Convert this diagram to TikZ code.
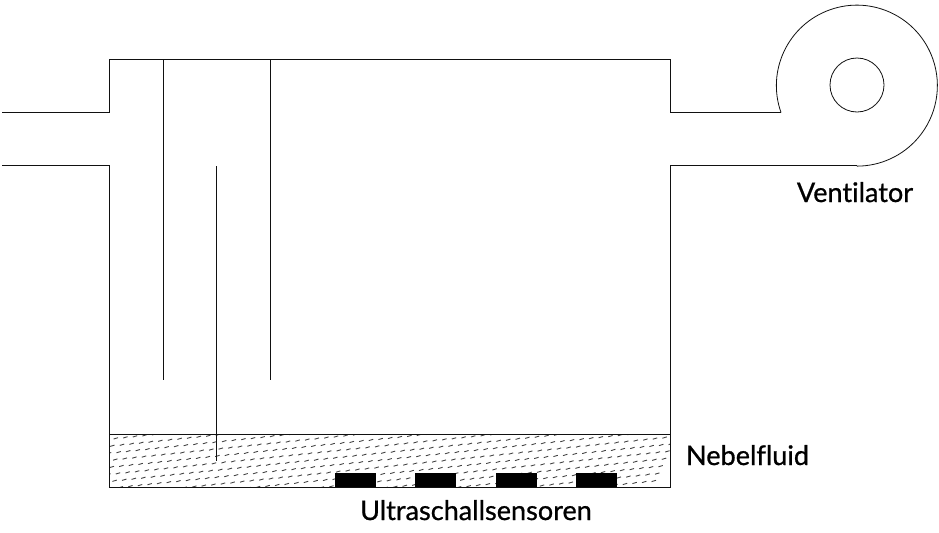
\documentclass[tikz,border=0pt]{standalone}
\usepackage{fontspec}
\setmainfont{Lato}[Ligatures=NoCommon,FakeBold=0.8]
\definecolor{inkc}{HTML}{111111}
\tikzset{
  wall/.style={draw=inkc,line width=0.75pt},
  fine/.style={draw=inkc,line width=0.6pt},
  sensor/.style={fill=black,draw=none,minimum width=30.75pt,minimum height=10.5pt,inner sep=0pt,outer sep=0pt},
  lbl/.style={font=\fontsize{20.3pt}{24pt}\selectfont,text=black,inner sep=0pt,anchor=base},
  hatchd/.style={draw=black!75,line width=0.65pt}
}
\begin{document}
\begin{tikzpicture}[x=0.75pt,y=-0.75pt]
\useasboundingbox[fill=white] (0,0) rectangle (939,532);
% fluid hatching
\begin{scope}
\clip (109.5,435) rectangle (670,487);
\foreach \r in {-2,...,24}{
  \foreach \c in {-1,...,62}{
    \pgfmathsetmacro{\xa}{104+\c*9.6-\r*3.4}
    \pgfmathsetmacro{\ya}{440+\r*7.4-\c*1.0}
    \ifdim \ya pt>430pt \ifdim \ya pt<492pt
      \draw[hatchd] (\xa,\ya) -- ++(4.4,-1.3);
    \fi\fi
  }
}
\end{scope}
% channel and tank
\coordinate (inA) at (2,112.5);
\coordinate (inB) at (109,112.5);
\coordinate (tl) at (109,59.5);
\coordinate (tr) at (670,59.5);
\coordinate (outA) at (670,112.5);
\coordinate (fanA) at (781,112.5);
\coordinate (fanB) at (857,165.5);
\coordinate (outB) at (670,165.5);
\coordinate (br) at (670,487);
\coordinate (bl) at (109,487);
\coordinate (inC) at (109,165.5);
\coordinate (inD) at (2,165.5);
\draw[wall] (inA) -- (inB) -- (tl) -- (tr) -- (outA) -- (fanA);
\draw[wall] (inD) -- (inC) -- (bl) -- (br) -- (outB) -- (fanB);
\draw[wall] (109,434.5) -- (670,434.5);
% fan
\draw[fine] (fanA) arc[start angle=160.5,end angle=450,radius=80.5];
\node[circle,fine,minimum size=40.5pt,inner sep=0pt] (hub) at (857,85) {};
% baffles
\coordinate (b1a) at (163.5,59.5); \coordinate (b1b) at (163.5,380);
\coordinate (b2a) at (270.5,59.5); \coordinate (b2b) at (270.5,380);
\coordinate (b3a) at (216.5,166); \coordinate (b3b) at (216.5,461);
\draw[fine] (b1a) -- (b1b);
\draw[fine] (b2a) -- (b2b);
\draw[fine] (b3a) -- (b3b);
% sensors
\node[sensor,anchor=south] (s1) at (355.5,487) {};
\node[sensor,anchor=south] (s2) at (435.5,487) {};
\node[sensor,anchor=south] (s3) at (516,487) {};
\node[sensor,anchor=south] (s4) at (596.5,487) {};
% labels
\node[lbl] (vent) at (855,202) {Ventilator};
\node[lbl] (fluid) at (747.5,465) {Nebelfluid};
\node[lbl] (ultra) at (476,520) {Ultraschallsensoren};
\end{tikzpicture}
\end{document}
